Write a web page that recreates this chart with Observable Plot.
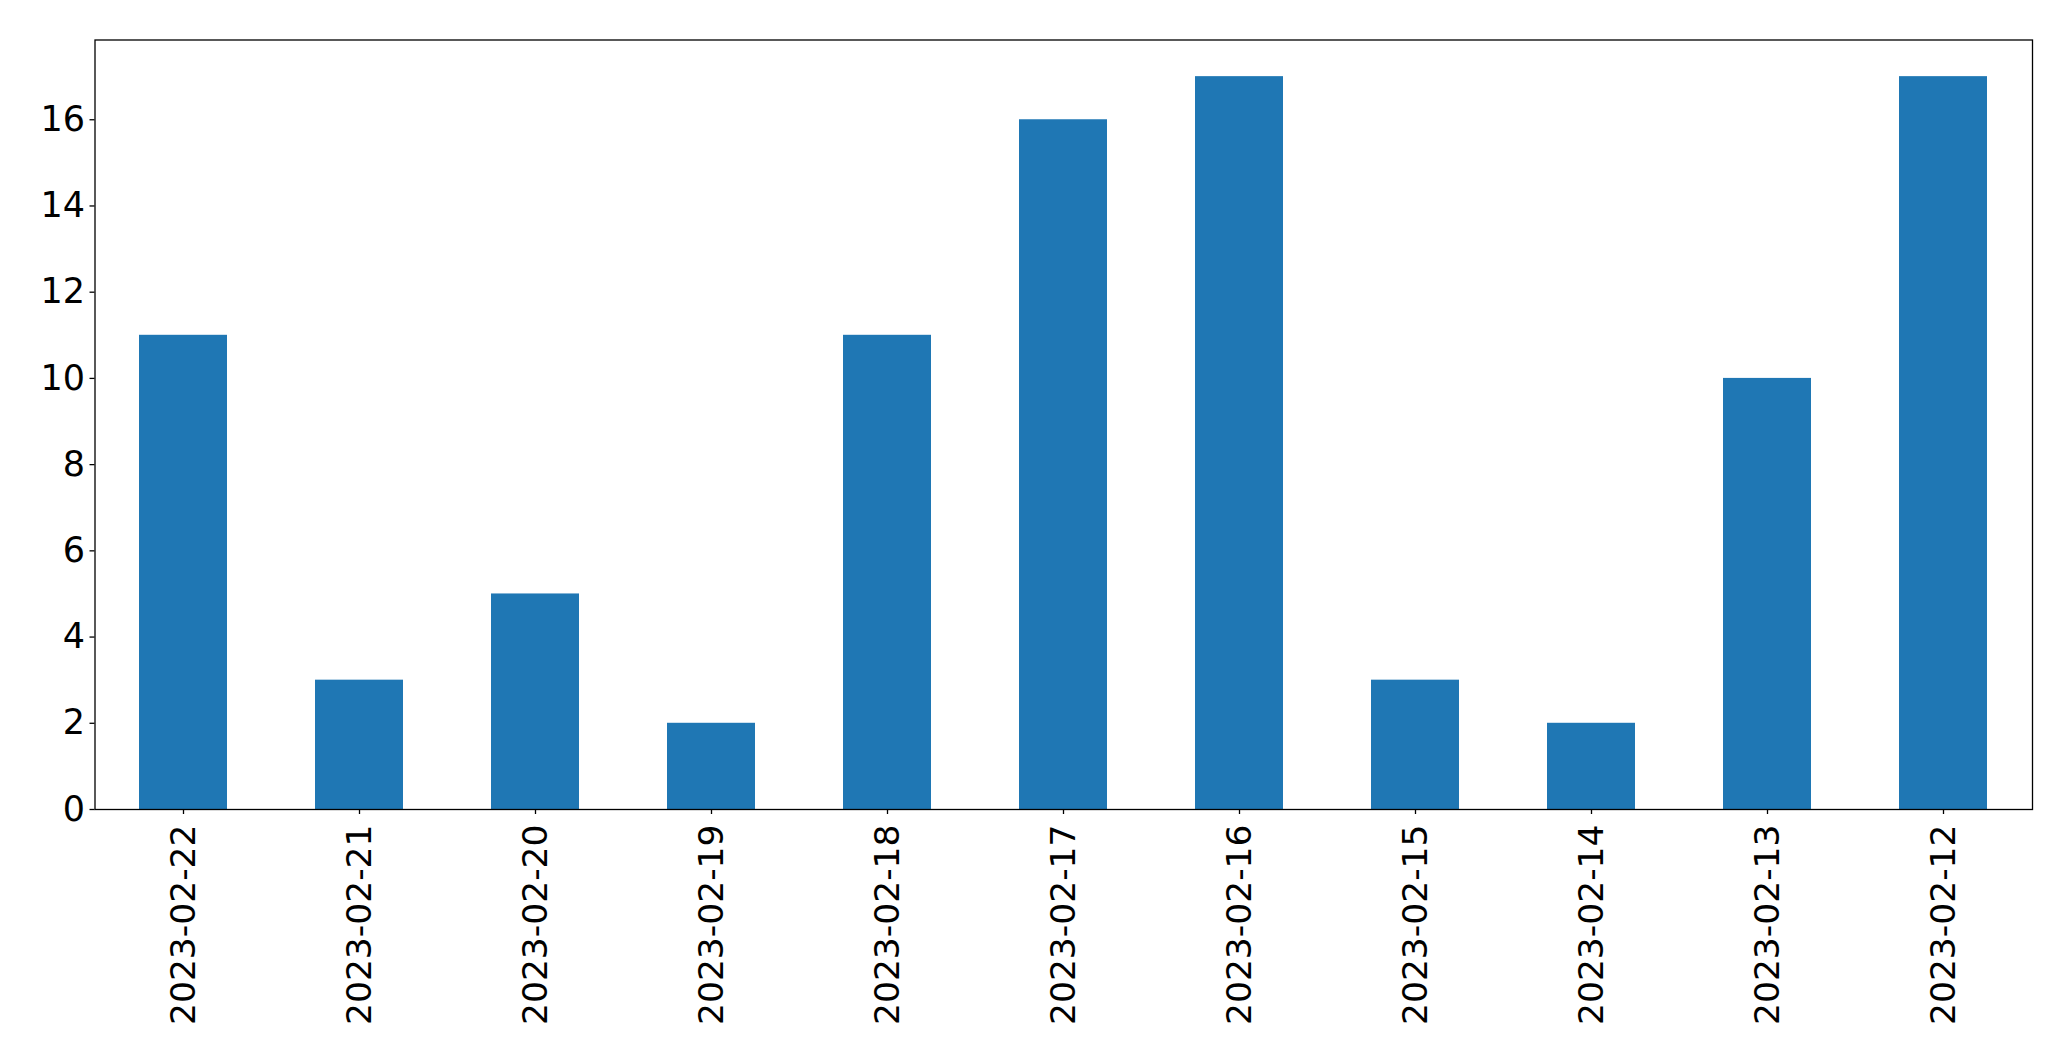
<!DOCTYPE html>
<html>
<head>
<meta charset="utf-8">
<script src="https://cdn.jsdelivr.net/npm/d3@7"></script>
<script src="https://cdn.jsdelivr.net/npm/@observablehq/plot@0.6"></script>
<style>
  html, body { margin: 0; padding: 0; background: #fff; overflow: hidden; }
  svg { display: block; }
</style>
</head>
<body>
<div id="chart"></div>
<script>
const dates = ["2023-02-22","2023-02-21","2023-02-20","2023-02-19","2023-02-18","2023-02-17","2023-02-16","2023-02-15","2023-02-14","2023-02-13","2023-02-12"];
const counts = [11, 3, 5, 2, 11, 16, 17, 3, 2, 10, 17];
const yTicks = [0, 2, 4, 6, 8, 10, 12, 14, 16];

const data = dates.map((d, i) => ({date: d, count: counts[i]}));

const chart = Plot.plot({
  width: 2071,
  height: 1061,
  marginLeft: 94.5,
  marginRight: 39,
  marginTop: 39.5,
  marginBottom: 252,
  style: {fontFamily: "DejaVu Sans", fontSize: "34.5px", color: "#000", background: "#fff"},
  x: {domain: dates, paddingInner: 0.5, paddingOuter: 0.25, label: null},
  y: {domain: [0, 17.85], label: null},
  marks: [
    Plot.barY(data, {x: "date", y: "count", fill: "#1f77b4"}),
    Plot.frame({stroke: "#000", strokeWidth: 1.3}),
    Plot.axisY({ticks: yTicks, tickSize: 5, tickPadding: 5, fontSize: 35, label: null, stroke: "#000", strokeWidth: 1.3}),
    Plot.axisX({tickRotate: -90, tickSize: 5, tickPadding: 10, fontSize: 34.5, label: null, stroke: "#000", strokeWidth: 1.3})
  ]
});
document.getElementById("chart").appendChild(chart);
</script>
</body>
</html>
